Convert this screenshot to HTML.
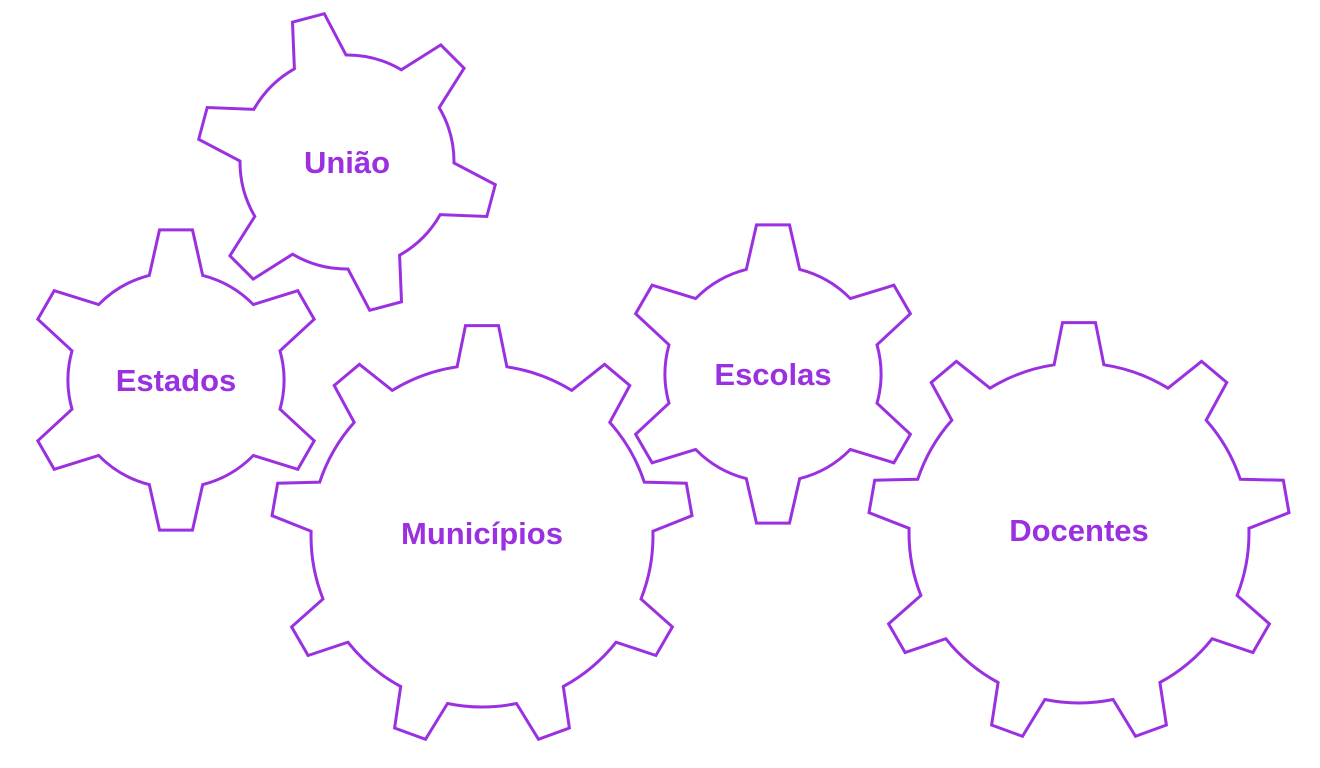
<!DOCTYPE html>
<html><head><meta charset="utf-8"><style>
html,body{margin:0;padding:0;background:#fff;}
svg{display:block;}
text{font-family:"Liberation Sans",sans-serif;font-weight:bold;fill:#9B30E0;text-anchor:middle;}
</style></head><body>
<svg id="c" width="1320" height="768" viewBox="0 0 1320 768"></svg>
<script>
const labels = ["União","Estados","Municípios","Escolas","Docentes"];
const centersX = [347,176,482,773,1079];
const centersY = [162,380,536,374,533];
const outerR = [150,151,211,150,211];
const innerR = [107,108,171,108,170];
const teeth = [6,6,9,6,9];
const rotation = [-105,-90,-90,-90,-90];
const svg = document.getElementById('c');
const NS = 'http://www.w3.org/2000/svg';
function pt(cx,cy,r,deg){const a=deg*Math.PI/180;return [cx+r*Math.cos(a),cy+r*Math.sin(a)];}
for(let g=0;g<labels.length;g++){
  const cx=centersX[g],cy=centersY[g],ro=outerR[g],ri=innerR[g],n=teeth[g];
  const step=360/n;
  const tw=(16.5/ro)*180/Math.PI, bw=(n===9?25:27)/ri*180/Math.PI;
  let d='';
  for(let i=0;i<n;i++){
    const a=rotation[g]+i*step;
    const p1=pt(cx,cy,ri,a-bw),p2=pt(cx,cy,ro,a-tw),p3=pt(cx,cy,ro,a+tw),p4=pt(cx,cy,ri,a+bw);
    const p5=pt(cx,cy,ri,a+step-bw);
    d+=(i===0?'M':'L')+p1[0].toFixed(1)+' '+p1[1].toFixed(1)+' L'+p2[0].toFixed(1)+' '+p2[1].toFixed(1)+' L'+p3[0].toFixed(1)+' '+p3[1].toFixed(1)+' L'+p4[0].toFixed(1)+' '+p4[1].toFixed(1)+' A'+ri+' '+ri+' 0 0 1 '+p5[0].toFixed(1)+' '+p5[1].toFixed(1)+' ';
  }
  d+='Z';
  const path=document.createElementNS(NS,'path');
  path.setAttribute('d',d);
  path.setAttribute('fill','#fff');
  path.setAttribute('stroke','#9B30E0');
  path.setAttribute('stroke-width','3');
  path.setAttribute('stroke-linejoin','miter');
  
  
  svg.appendChild(path);
  const t=document.createElementNS(NS,'text');
  t.setAttribute('x',cx);
  t.setAttribute('y',centersY[g]+11-(n===9?3:0));
  t.setAttribute('font-size','31');
  t.textContent=labels[g];
  
  
  svg.appendChild(t);
}
</script>
</body></html>
